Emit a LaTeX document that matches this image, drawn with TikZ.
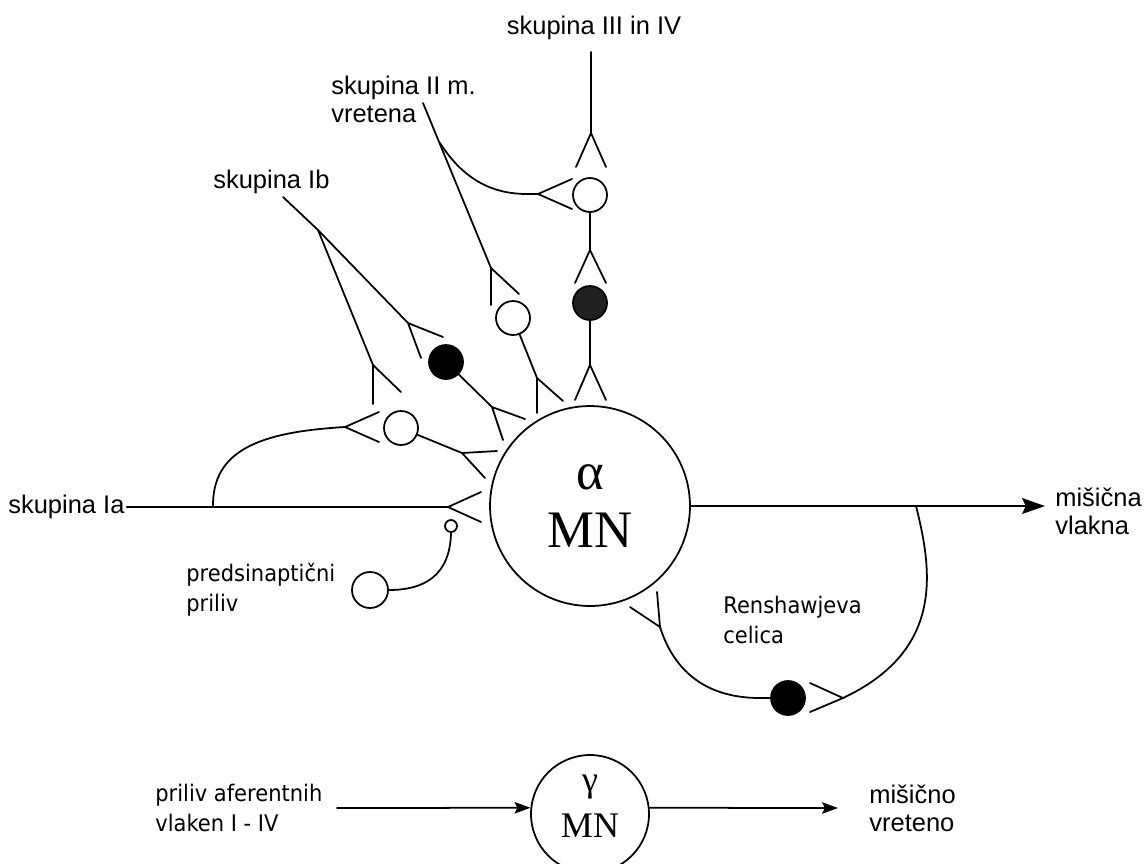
\documentclass[tikz,border=0pt]{standalone}
\usepackage{fontspec}
\setmainfont{Liberation Sans}
\newfontfamily\tahomalike[FakeStretch=0.92]{DejaVu Sans}
\newfontfamily\mnserif{Liberation Serif}
\usetikzlibrary{arrows.meta}

\begin{document}
\begin{tikzpicture}[x=0.02cm,y=-0.02cm,
  nerve/.style={line width=1pt, line cap=round},
  syn/.style={circle, draw, line width=1pt, minimum size=0.68cm, inner sep=0pt},
  synfill/.style={syn, fill=black},
  lbl/.style={font=\fontsize{14.5}{16}\selectfont, inner sep=0pt, align=left, anchor=west},
  note/.style={font=\tahomalike\fontsize{13}{17}\selectfont, inner sep=0pt, align=left, anchor=west},
  bigarrow/.style={nerve, -{Stealth[length=13pt,width=9pt,inset=2pt]}},
  smallarrow/.style={nerve, -{Stealth[length=9pt,width=6.5pt,inset=1.5pt]}}
]
\useasboundingbox (0,0) rectangle (1148,863);

% alpha motoneuron
\node[circle, draw, line width=1pt, minimum size=4cm, inner sep=0pt] (amn) at (590,506) {};
\node[font=\mnserif\fontsize{30}{33}\selectfont, inner sep=0pt] (alpha) at (590,477) {α};
\node[font=\mnserif\fontsize{30}{33}\selectfont, inner sep=0pt] (amntxt) at (590,530) {MN};

% group III and IV
\node[lbl, anchor=center] (l34) at (594,28) {skupina III in IV};
\coordinate (t34) at (591,52);
\coordinate (A1) at (591,133);
\node[syn] (c1) at (590,195) {};
\coordinate (A2) at (590,250);
\node[syn, fill=black!87] (c2) at (590,303) {};
\coordinate (A3) at (590,365);
\draw[nerve] (t34) -- (A1);
\draw[nerve] (576,167) -- (A1) -- (606,167);
\draw[nerve] (c1.south) -- (A2);
\draw[nerve] (575,283) -- (A2) -- (606,283);
\draw[nerve] (c2.south) -- (A3);
\draw[nerve] (575,400) -- (A3) -- (606,400);

% group II (muscle spindle)
\node[lbl] (l2) at (331,99) {skupina II m.\\vretena};
\coordinate (t2) at (423,103);
\coordinate (B0) at (440,143);
\coordinate (B1) at (491,268);
\coordinate (B3) at (538,194);
\node[syn] (c3) at (513,318) {};
\coordinate (B2) at (537,378);
\draw[nerve] (t2) -- (B1);
\draw[nerve] (491,305) -- (B1) -- (519,294);
\draw[nerve] (B0) .. controls (465,182) and (495,194) .. (527,194) -- (B3);
\draw[nerve] (572,179) -- (B3) -- (572,209);
\draw[nerve] (c3) -- (B2);
\draw[nerve] (537,413) -- (B2) -- (563,401);

% group Ib
\node[lbl] (l1b) at (213,182) {skupina Ib};
\coordinate (t1b) at (283,197);
\coordinate (D0) at (318,230);
\coordinate (D1) at (408,323);
\node[synfill] (c4) at (446,362) {};
\coordinate (D2) at (492,407);
\coordinate (D3) at (373,365);
\node[syn] (c5) at (401,428) {};
\coordinate (D4) at (462,453);
\coordinate (D5) at (345,427);
\draw[nerve] (t1b) -- (D0) -- (D1);
\draw[nerve] (421,358) -- (D1) -- (443,337);
\draw[nerve] (c4) -- (D2);
\draw[nerve] (525,419) -- (D2) -- (503,440);
\draw[nerve] (D0) -- (D3);
\draw[nerve] (373,404) -- (D3) -- (401,392);
\draw[nerve] (c5) -- (D4);
\draw[nerve] (497,451) -- (D4) -- (485,478);
\draw[nerve] (379,412) -- (D5) -- (379,442);

% group Ia
\node[lbl] (l1a) at (8,507) {skupina Ia};
\coordinate (E1) at (448,507);
\coordinate (E0) at (213,507);
\draw[nerve] (l1a.east) ++(2,0) -- (E1);
\draw[nerve] (481,492) -- (E1) -- (481,522);
\draw[nerve] (E0) .. controls (212,450) and (260,432) .. (D5);

% presynaptic input
\node[circle, draw, line width=1pt, minimum size=0.24cm, inner sep=0pt] (c6) at (451,526) {};
\node[syn, minimum size=0.72cm] (c7) at (370,590) {};
\draw[nerve] (c6.south) .. controls (450,575) and (425,590) .. (c7.east);
\node[note] (lpre) at (186,590) {predsinaptični\\priliv};

% output to muscle fibres and Renshaw loop
\node[lbl] (lout) at (1055,511) {mišična\\vlakna};
\coordinate (out) at (1045,506);
\draw[bigarrow] (amn.east) -- (out);
\coordinate (R0) at (916,506);
\coordinate (R1) at (843,698);
\node[synfill] (c8) at (788,698) {};
\coordinate (R2) at (660,627);
\draw[nerve] (R0) .. controls (932,570) and (945,650) .. (R1);
\draw[nerve] (810,683) -- (R1) -- (810,712);
\draw[nerve] (c8.west) -- (760,698) .. controls (700,698) and (672,665) .. (R2);
\draw[nerve] (657,592) -- (R2) -- (630,607);
\node[note] (lren) at (723,620) {Renshawjeva\\celica};

% gamma motoneuron
\node[circle, draw, line width=1pt, minimum size=2.36cm, inner sep=0pt] (gmn) at (590,814) {};
\node[font=\mnserif\fontsize{20.5}{24}\selectfont, inner sep=0pt] (gamma) at (590,787) {γ};
\node[font=\mnserif\fontsize{20.5}{24}\selectfont, inner sep=0pt] (gmntxt) at (590,826) {MN};
\node[note] (lin) at (155,808) {priliv aferentnih\\vlaken I - IV};
\coordinate (gin) at (337,808);
\draw[smallarrow] (gin) -- (gmn.174);
\node[lbl] (lsp) at (869,808) {mišično\\vreteno};
\coordinate (gout) at (838,808);
\draw[smallarrow] (gmn.6) -- (gout);
\end{tikzpicture}
\end{document}
